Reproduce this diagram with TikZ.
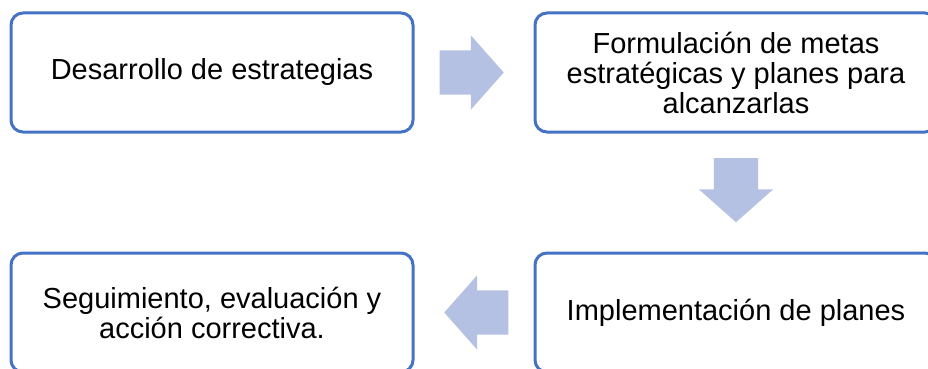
\documentclass[tikz,border=0pt]{standalone}
\usepackage{fontspec}
\setmainfont{Liberation Sans}
\usepackage{tikz}
\usetikzlibrary{positioning,calc,shapes.arrows}
\definecolor{Frame}{HTML}{4472C4}
\definecolor{Pale}{HTML}{B4C1E2}

\begin{document}
\begin{tikzpicture}[
  node distance=122pt,
  stage/.style={draw=Frame,line width=3pt,rounded corners=12pt,outer sep=0pt,
    align=center,font=\fontsize{29}{30}\selectfont,
    minimum width=402pt,minimum height=119pt},
  flowarr/.style={single arrow,fill=Pale,draw=none,inner xsep=0pt,inner ysep=22pt,
    minimum height=64pt,single arrow head extend=15pt,
    single arrow tip angle=97,anchor=tip}]
\useasboundingbox (0,0) rectangle (928pt,-369pt);
\node[stage] (tl) at (212pt,-72.5pt) {Desarrollo de estrategias};
\node[stage,right=of tl] (tr) {Formulación de metas\\estratégicas y planes para\\alcanzarlas};
\node[stage,below=121pt of tr] (br) {Implementación de planes};
\node[stage,below=121pt of tl] (bl) {Seguimiento, evaluación y\\acción correctiva.};
\foreach \p/\q/\r/\n in {tl.east/tr.west/0/a1,tr.south/br.north/-90/a2,br.west/bl.east/180/a3}
  \node[flowarr,rotate=\r] (\n) at ($(\p)!0.5!(\q)!30pt!(\q)$) {};
\end{tikzpicture}
\end{document}
